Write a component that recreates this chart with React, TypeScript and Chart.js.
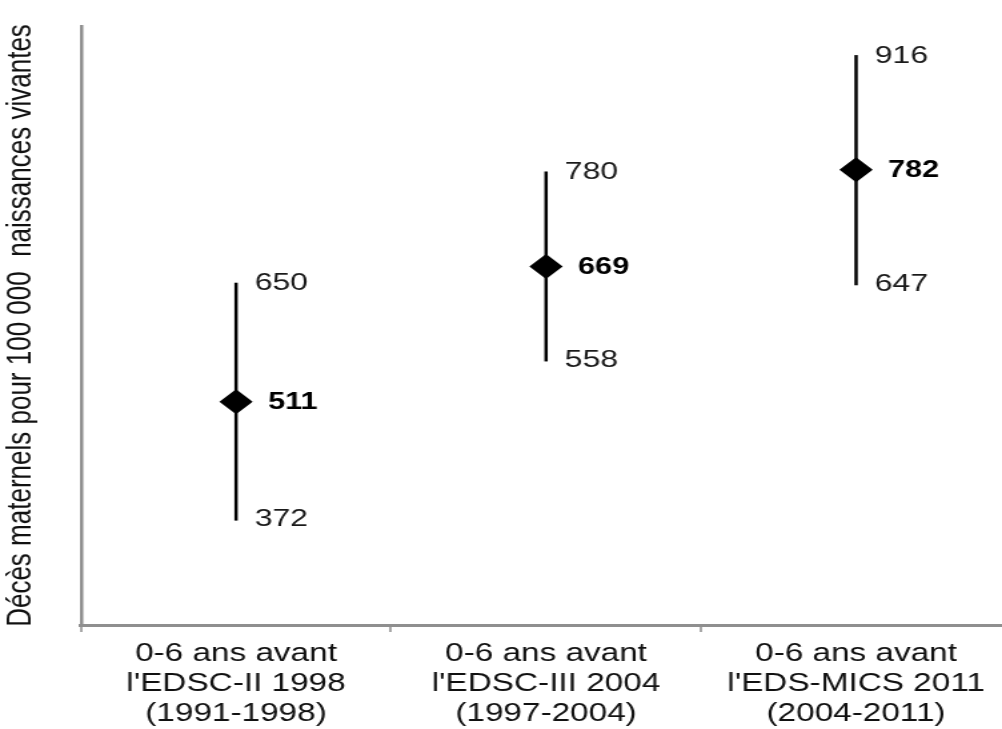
import { useEffect, useRef } from "react";
import { Chart, registerables } from "chart.js";

Chart.register(...registerables);

// Survey periods (multi-line category labels)
const categories: string[][] = [
  ["0-6 ans avant", "l'EDSC-II 1998", "(1991-1998)"],
  ["0-6 ans avant", "l'EDSC-III 2004", "(1997-2004)"],
  ["0-6 ans avant", "l'EDS-MICS 2011", "(2004-2011)"],
];

// Maternal mortality ratio: point estimate and confidence interval
const estimates = [511, 669, 782];
const lowerBounds = [372, 558, 647];
const upperBounds = [650, 780, 916];

const yTitle = "Décès maternels pour 100 000  naissances vivantes";
const yMin = 250;
const yMax = 950;

// The drawing is made on a narrower canvas and widened horizontally
const STRETCH_X = 1002 / 752;
const CANVAS_W = 760;
const CANVAS_H = 729;

const FONT = "'Liberation Sans', Arial, Helvetica, sans-serif";

export default function App() {
  const ref = useRef<HTMLCanvasElement>(null);

  useEffect(() => {
    const canvas = ref.current;
    if (!canvas) return;

    const intervalPlugin = {
      id: "intervalBars",
      beforeDatasetsDraw(chart: any) {
        const { ctx, scales } = chart;
        const xs = scales.x;
        const ys = scales.y;
        ctx.save();
        ctx.strokeStyle = "#000";
        ctx.lineWidth = 2.5;
        estimates.forEach((_, i) => {
          const x = xs.getPixelForValue(i);
          ctx.beginPath();
          ctx.moveTo(x, ys.getPixelForValue(lowerBounds[i]));
          ctx.lineTo(x, ys.getPixelForValue(upperBounds[i]));
          ctx.stroke();
        });
        ctx.restore();
      },
      afterDatasetsDraw(chart: any) {
        const { ctx, scales } = chart;
        const xs = scales.x;
        const ys = scales.y;
        ctx.save();
        ctx.textBaseline = "middle";
        ctx.textAlign = "left";
        estimates.forEach((v, i) => {
          const x = xs.getPixelForValue(i);
          ctx.fillStyle = "#1a1a1a";
          ctx.font = `24px ${FONT}`;
          ctx.fillText(String(upperBounds[i]), x + 14, ys.getPixelForValue(upperBounds[i]) + 1);
          ctx.fillText(String(lowerBounds[i]), x + 14, ys.getPixelForValue(lowerBounds[i]) - 1);
          ctx.font = `bold 23px ${FONT}`;
          ctx.fillStyle = "#000";
          ctx.fillText(String(v), x + 24, ys.getPixelForValue(v) + 1);
        });
        ctx.restore();
      },
    };

    const chart = new Chart(canvas, {
      type: "line",
      data: {
        labels: categories,
        datasets: [
          {
            data: estimates,
            showLine: false,
            pointStyle: "rectRot",
            pointRadius: 12.5,
            pointHoverRadius: 12.5,
            pointBackgroundColor: "#000",
            pointBorderColor: "#000",
            pointBorderWidth: 0,
          },
        ],
      },
      options: {
        responsive: false,
        animation: false,
        devicePixelRatio: 1,
        layout: {
          autoPadding: false,
          padding: { top: 26, right: 1.2, bottom: 0, left: 0 },
        },
        plugins: {
          legend: { display: false },
          tooltip: { enabled: false },
        },
        scales: {
          x: {
            type: "category",
            offset: true,
            grid: {
              offset: true,
              drawOnChartArea: false,
              drawTicks: true,
              tickLength: 7,
              color: "#a8a8a8",
              lineWidth: 2,
            },
            border: { display: true, color: "#8f8f8f", width: 3 },
            ticks: {
              color: "#111",
              padding: 7,
              maxRotation: 0,
              autoSkip: false,
              font: { family: FONT, size: 25, lineHeight: 1.2 },
            },
            afterFit(scale: any) {
              scale.height = 104;
              scale.paddingLeft = 0;
              scale.paddingRight = 0;
            },
          },
          y: {
            min: yMin,
            max: yMax,
            grid: { display: false },
            border: { display: true, color: "#8f8f8f", width: 2.5 },
            ticks: { display: false },
            title: {
              display: true,
              text: yTitle,
              color: "#111",
              padding: { top: 0, bottom: 0 },
              font: { family: FONT, size: 26, lineHeight: 1.2 },
            },
            afterFit(scale: any) {
              scale.width = 60.8;
              scale.paddingTop = 0;
              scale.paddingBottom = 0;
            },
          },
        },
      },
      plugins: [intervalPlugin],
    } as any);

    return () => chart.destroy();
  }, []);

  return (
    <div
      style={{
        position: "fixed",
        left: 0,
        top: 0,
        width: 1002,
        height: 729,
        overflow: "hidden",
        background: "#fff",
      }}
    >
      <div
        style={{
          width: CANVAS_W,
          height: CANVAS_H,
          transform: `scale(${STRETCH_X}, 1)`,
          transformOrigin: "0 0",
        }}
      >
        <canvas ref={ref} width={CANVAS_W} height={CANVAS_H} style={{ display: "block" }} />
      </div>
    </div>
  );
}
